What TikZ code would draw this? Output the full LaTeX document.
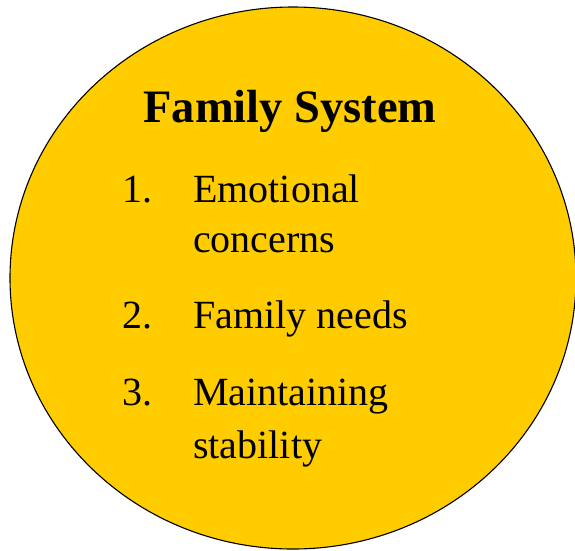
\documentclass[tikz,border=0pt]{standalone}
\usepackage{fontspec}
\setmainfont{Liberation Serif}
\definecolor{sysyellow}{HTML}{FFCC00}
\begin{document}
\begin{tikzpicture}[x=1pt,y=-1pt,
	item/.style={anchor=base west,inner sep=0pt,font=\fontsize{40}{48}\selectfont}]
	\useasboundingbox (0,0) rectangle (575,550);
	% circle
	\draw[fill=sysyellow,line width=1.1pt] (293,278) ellipse [x radius=283,y radius=271];
	% title
	\node (title) [anchor=base,inner sep=0pt,font=\fontsize{46.5}{54}\selectfont\bfseries] at (290,122) {Family System};
	% list
	\node (n1) [item] at (122,202) {1.};
	\node (t1a) [item] at (193,202) {Emotional};
	\node (t1b) [item] at (193,252) {concerns};
	\node (n2) [item] at (122,328) {2.};
	\node (t2) [item] at (193,328) {Family needs};
	\node (n3) [item] at (122,405) {3.};
	\node (t3a) [item] at (193,405) {Maintaining};
	\node (t3b) [item] at (193,458) {stability};
\end{tikzpicture}
\end{document}
